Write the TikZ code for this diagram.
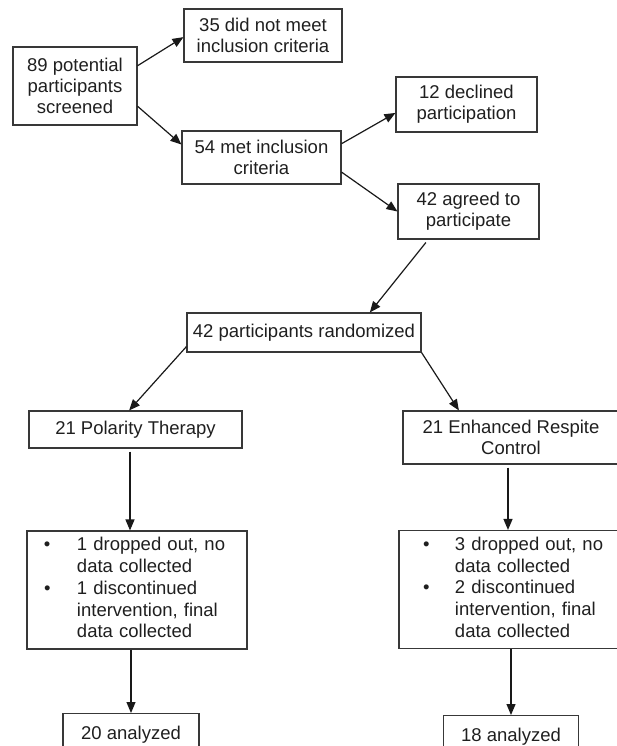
\documentclass[tikz,border=0pt]{standalone}
\usepackage{fontspec}
\setmainfont{Liberation Sans}
\usetikzlibrary{arrows.meta,calc}
\begin{document}
\begin{tikzpicture}[x=1pt,y=-1pt,
  box/.style={draw=black!78, line width=1.1pt, inner sep=0pt, align=center,
    font=\fontsize{18.5}{20.7}\selectfont, text=black!88},
  oneline/.style={text height=13.5pt, text depth=4.5pt},
  bulletbox/.style={draw=black!78, line width=1.1pt, inner sep=0pt, align=left,
    text width=220pt, minimum height=118pt,
    font=\fontsize{18.5}{21.7}\selectfont, text=black!88},
  arr/.style={draw=black!90, line width=1.2pt, -{Triangle[length=11pt,width=9pt]}}]
\useasboundingbox (0,0) rectangle (617,746);
\node[box, minimum width=124pt, minimum height=78pt] (B89) at (75,86) {89 potential\\participants\\screened};
\node[box, minimum width=158pt, minimum height=53pt] (B35) at (263,35.5) {35 did not meet\\inclusion criteria};
\node[box, minimum width=159pt, minimum height=53pt] (B54) at (261.5,157.5) {54 met inclusion\\criteria};
\node[box, minimum width=141pt, minimum height=55pt] (B12) at (466.5,104.5) {12 declined\\participation};
\node[box, minimum width=141pt, minimum height=55pt] (B42) at (468.5,211.5) {42 agreed to\\participate};
\node[box, oneline, minimum width=234pt, minimum height=39pt] (BR) at (304,332.5) {42 participants randomized};
\node[box, oneline, minimum width=213pt, minimum height=37pt] (BP) at (135.5,429.5) {21 Polarity Therapy};
\node[box, minimum width=216pt, minimum height=53pt] (BE) at (511,437.5) {21 Enhanced Respite\\Control};
\node[bulletbox] (BL) at (137,590) {\begin{tabular}{@{\hspace{17pt}}l@{\hspace{26.5pt}}l@{}}
•& 1 dropped out, no\\
 & data collected\\
•& 1 discontinued\\
 & intervention, final\\
 & data collected\end{tabular}};
\node[bulletbox] (BRt) at (509,589.5) {\begin{tabular}{@{\hspace{24pt}}l@{\hspace{25.5pt}}l@{}}
•& 3 dropped out, no\\
 & data collected\\
•& 2 discontinued\\
 & intervention, final\\
 & data collected\end{tabular}};
\node[box, oneline, anchor=north, minimum width=136pt, inner ysep=12pt] (A20) at (131,713) {20 analyzed};
\node[box, oneline, anchor=north, minimum width=135pt, inner ysep=12pt] (A18) at (511,715) {18 analyzed};
% connectors
\draw[arr] ($(B89.north east)!0.244!(B89.south east)$) -- ($(B35.north west)!0.53!(B35.south west)$);
\draw[arr] ($(B89.north east)!0.756!(B89.south east)$) -- ($(B54.north west)!0.26!(B54.south west)$);
\draw[arr] ($(B54.north east)!0.245!(B54.south east)$) -- ($(B12.north west)!0.65!(B12.south west)$);
\draw[arr] ($(B54.north east)!0.77!(B54.south east)$) -- (B42.west);
\draw[arr] ($(B42.south west)!0.2!(B42.south east)+(0,3)$) -- ($(BR.north west)!0.78!(BR.north east)$);
\draw[arr] ($(BR.south west)+(0,-6)$) -- ($(BP.north west)!0.47!(BP.north east)$);
\draw[arr] (BR.south east) -- ($(BE.north west)!0.26!(BE.north east)$);
\coordinate (p1) at ([shift={(-5.5,3)}]BP.south);
\coordinate (p2) at ([shift={(-3,3)}]BE.south);
\draw[arr] (p1) -- (p1 |- BL.north);
\draw[arr] (p2) -- (p2 |- BRt.north);
\draw[arr] (A20.north |- BL.south) -- (A20.north);
\draw[arr] (A18.north |- BRt.south) -- (A18.north);
\end{tikzpicture}
\end{document}
